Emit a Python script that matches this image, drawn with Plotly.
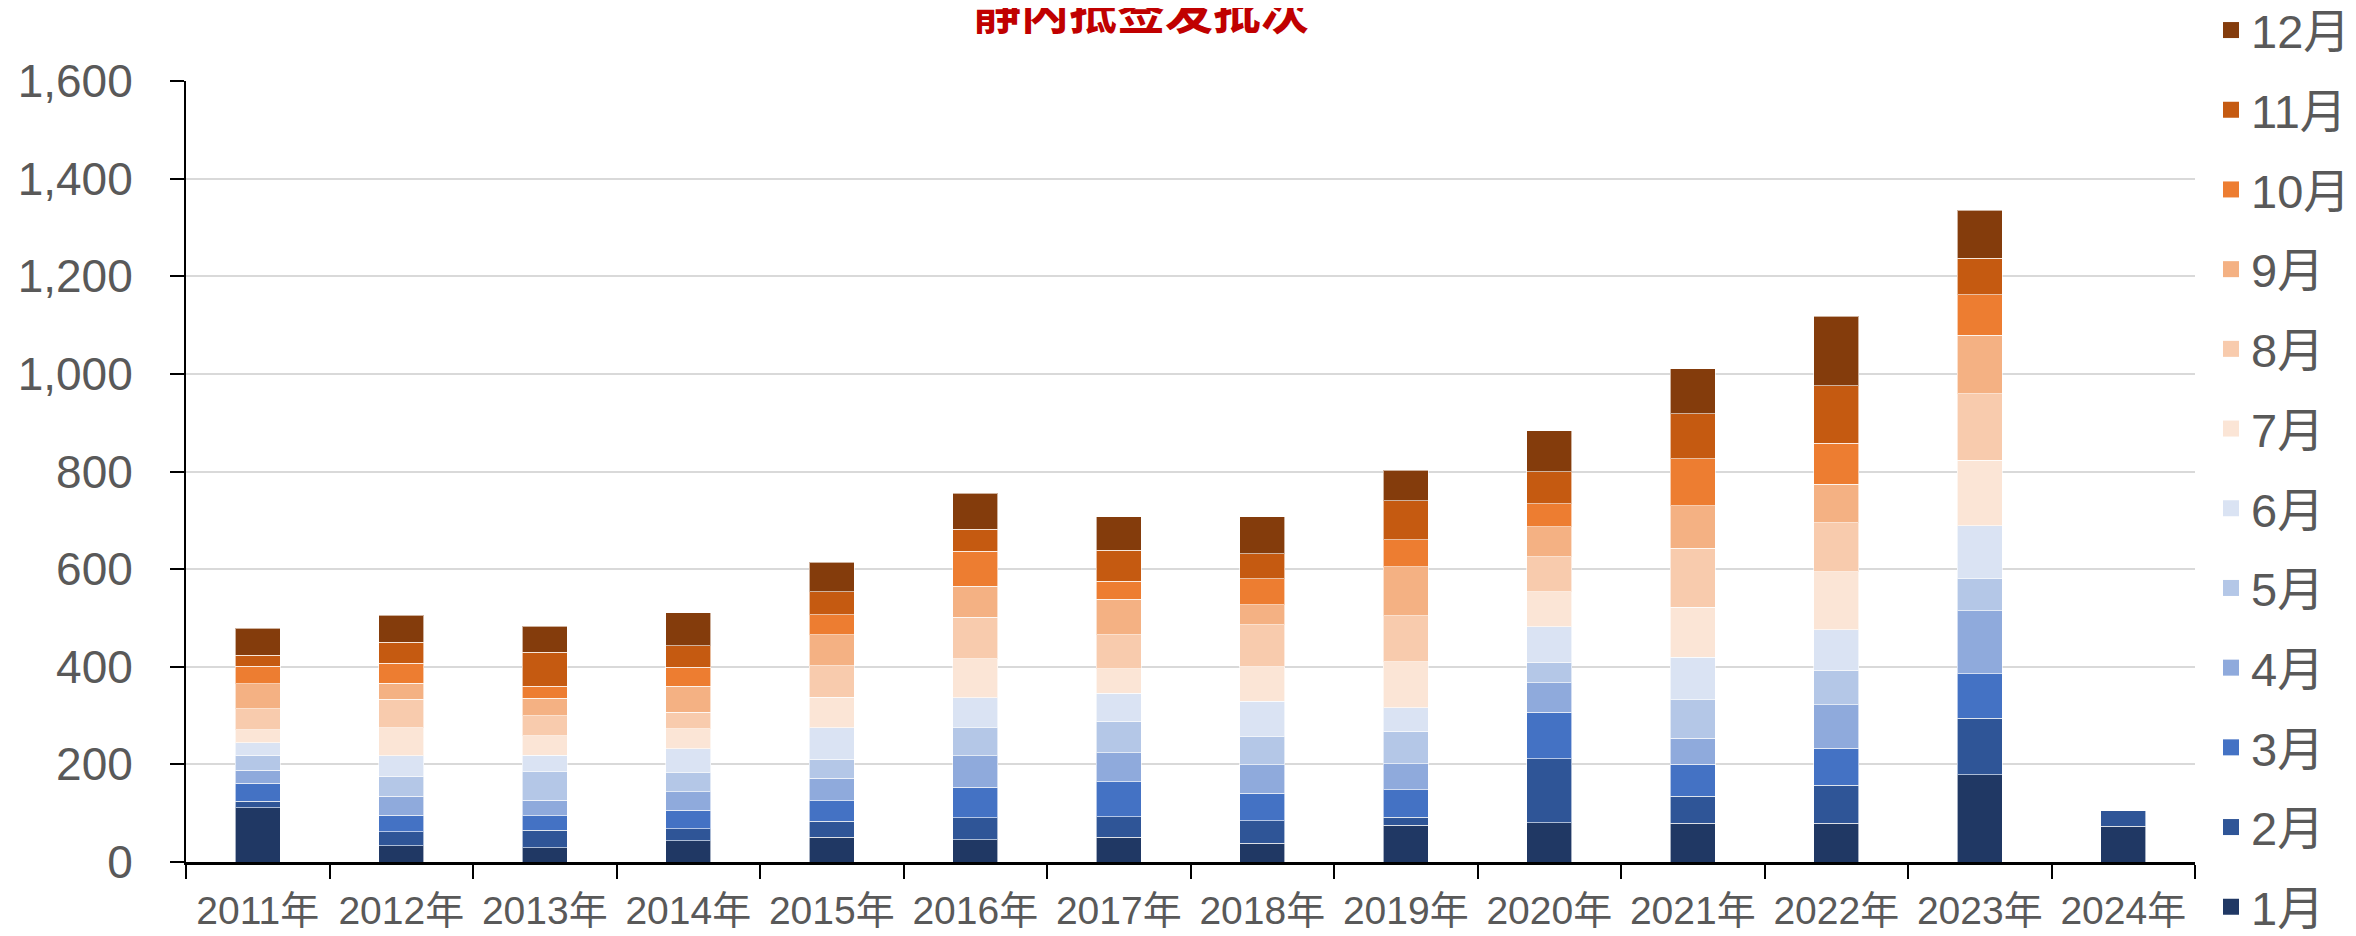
import plotly.graph_objects as go

years = ['2011年', '2012年', '2013年', '2014年', '2015年', '2016年', '2017年',
         '2018年', '2019年', '2020年', '2021年', '2022年', '2023年', '2024年']
months = ['1月', '2月', '3月', '4月', '5月', '6月', '7月', '8月', '9月', '10月', '11月', '12月']

jan = [111, 33, 29, 44, 51, 46, 51, 38, 75, 80, 79, 79, 179, 73]
feb = [13, 29, 36, 24, 32, 45, 42, 47, 17, 132, 56, 78, 116, 32]
mar = [37, 34, 30, 38, 42, 62, 71, 56, 56, 95, 65, 76, 91, None]
apr = [27, 39, 32, 38, 47, 65, 60, 58, 53, 60, 54, 89, 129, None]
may = [31, 41, 58, 39, 39, 57, 64, 58, 67, 42, 78, 71, 65, None]
jun = [25, 42, 34, 49, 64, 62, 58, 72, 48, 73, 87, 83, 109, None]
jul = [27, 57, 40, 41, 63, 79, 50, 71, 94, 72, 103, 119, 134, None]
aug = [43, 58, 41, 34, 64, 85, 70, 86, 95, 71, 121, 100, 136, None]
sep = [51, 33, 35, 53, 64, 64, 72, 41, 100, 62, 87, 79, 120, None]
oct_ = [36, 41, 25, 39, 41, 72, 37, 53, 55, 47, 96, 84, 83, None]
nov = [23, 43, 70, 44, 47, 45, 64, 51, 80, 66, 92, 118, 75, None]
dec = [55, 56, 53, 68, 60, 73, 68, 76, 63, 84, 93, 142, 98, None]

colors = ['#203864', '#2f5597', '#4472c4', '#8faadc', '#b4c7e7', '#dae3f3',
          '#fbe5d6', '#f8cbad', '#f4b183', '#ed7d31', '#c55a11', '#843c0c']

series = [jan, feb, mar, apr, may, jun, jul, aug, sep, oct_, nov, dec]

# page body has an 8px margin, so the figure is a bit smaller than the window
W, H = 2348, 928
L, R, T, B = 178, 161, 73, 74
ph = H - T - B
pw = W - L - R
FONT = 'Liberation Sans, Arial, Noto Sans CJK SC'

fig = go.Figure()
for name, vals, c in zip(months, series, colors):
    fig.add_trace(go.Bar(x=years, y=vals, name=name, marker_color=c,
                         marker_line=dict(color='rgba(255,255,255,0.6)', width=1),
                         showlegend=False))
# legend entries (12月 on top) with bigger square swatches
for name, c in reversed(list(zip(months, colors))):
    fig.add_trace(go.Scatter(x=[None], y=[None], mode='markers', name=name,
                             marker=dict(symbol='square', size=38, color=c),
                             legendgroup='lg' + name, showlegend=True))

fig.update_layout(
    width=W, height=H,
    barmode='stack', bargap=0.686,
    plot_bgcolor='white', paper_bgcolor='white',
    margin=dict(l=L, r=R, t=T, b=B, autoexpand=False),
    font=dict(family=FONT, color='#595959'),
    legend=dict(traceorder='grouped', x=1.002 + 12 / pw, xanchor='left', y=1 + (T + 15) / ph,
                yanchor='top', font=dict(size=47, family=FONT, color='#595959'),
                tracegroupgap=15.6, itemwidth=30, maxheight=H + 40, bgcolor='rgba(0,0,0,0)'),
    xaxis=dict(showline=True, linecolor='black', linewidth=2.5, ticks='outside',
               tickson='boundaries', ticklen=14, tickcolor='black', tickwidth=2,
               tickangle=0, automargin=False, ticklabelstandoff=12,
               tickfont=dict(size=39, family=FONT, color='#595959')),
    yaxis=dict(range=[0, 1600], dtick=200, tickformat=',d', showline=True, linecolor='black',
               linewidth=2, ticks='outside', ticklen=14, tickcolor='black', tickwidth=2,
               gridcolor='#d9d9d9', gridwidth=2, zeroline=False, ticklabelstandoff=28,
               automargin=False,
               tickfont=dict(size=46, family=FONT, color='#595959')),
)

fig.add_annotation(text='<b>静内抵签发批次</b>', xref='paper', yref='paper',
                   x=(1133 - L) / pw, y=1 + T / ph, xanchor='center', yanchor='middle',
                   showarrow=False, font=dict(size=48, color='#c00000', family='Noto Sans CJK SC'))

fig.write_html('out.html')
